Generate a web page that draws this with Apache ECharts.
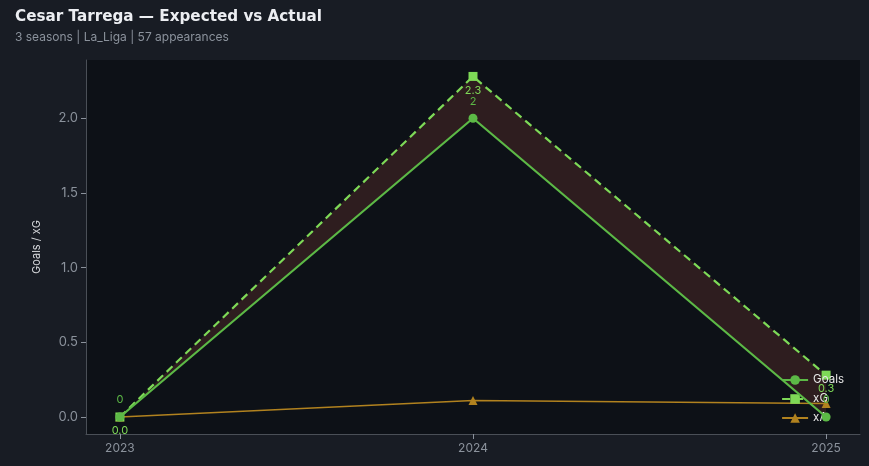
<!DOCTYPE html>
<html><head><meta charset="utf-8">
<script src="https://cdn.jsdelivr.net/npm/echarts@6/dist/echarts.min.js"></script>
<style>html,body{margin:0;padding:0;background:#181c24;}#c{width:869px;height:466px;}</style>
</head><body><div id="c"></div>
<script>
const seasons = [2023, 2024, 2025];
const goals = [0, 2, 0];
const xg = [0, 2.28, 0.28];
const xa = [0, 0.11, 0.09];
const yTicks = [0, 0.5, 1.0, 1.5, 2.0];

const chart = echarts.init(document.getElementById('c'));
const pts = arr => seasons.map((s, i) => [s, arr[i]]);

chart.setOption({
  backgroundColor: '#181c24',
  animation: false,
  title: {
    text: 'Cesar Tarrega — Expected vs Actual',
    subtext: '3 seasons | La_Liga | 57 appearances',
    left: 10, top: 5, itemGap: 6,
    textStyle: {color: '#eceef2', fontSize: 15.2, fontWeight: 'bold', fontFamily: 'DejaVu Sans'},
    subtextStyle: {color: '#8b929c', fontSize: 12, fontFamily: 'Inter'}
  },
  grid: {left: 86, right: 9, top: 60, bottom: 32, show: true, backgroundColor: '#0d1117', borderWidth: 0},
  xAxis: {
    type: 'value', min: 2022.904, max: 2025.096,
    splitLine: {show: false},
    axisLine: {show: true, onZero: false, lineStyle: {color: '#4a4f57'}},
    axisTick: {show: true, customValues: seasons, length: 5, lineStyle: {color: '#8b929c'}},
    axisLabel: {customValues: seasons, color: '#8b929c', fontSize: 12, fontFamily: 'Inter', margin: 8, formatter: v => String(v)}
  },
  yAxis: {
    type: 'value', min: -0.114, max: 2.39,
    name: 'Goals / xG', nameLocation: 'middle', nameGap: 44, nameRotate: 90,
    nameTextStyle: {color: '#d6d8dc', fontSize: 11, fontFamily: 'Inter'},
    splitLine: {show: false},
    axisLine: {show: true, onZero: false, lineStyle: {color: '#4a4f57'}},
    axisTick: {show: true, customValues: yTicks, length: 5, lineStyle: {color: '#8b929c'}},
    axisLabel: {customValues: yTicks, color: '#8b929c', fontSize: 13, fontFamily: 'Inter', margin: 8, formatter: v => v.toFixed(1)}
  },
  legend: {
    orient: 'vertical', right: 20, top: 369, itemGap: 7, itemWidth: 26, itemHeight: 12,
    data: ['Goals', 'xG', 'xA'],
    textStyle: {color: '#e8e8e8', fontSize: 11.5, fontFamily: 'Inter'}
  },
  series: [
    {name: 'bandTop', type: 'line', data: pts(xg), symbol: 'none', lineStyle: {opacity: 0}, areaStyle: {color: '#2e1d1f', opacity: 1, origin: 'start'}, silent: true, z: 1},
    {name: 'bandMask', type: 'line', data: pts(goals), symbol: 'none', lineStyle: {opacity: 0}, areaStyle: {color: '#0d1117', opacity: 1, origin: 'start'}, silent: true, z: 1},
    {name: 'xA', type: 'line', data: pts(xa), symbol: 'triangle', symbolSize: 9,
      itemStyle: {color: '#b1821f'}, lineStyle: {color: '#b1821f', width: 1.6}, z: 2},
    {name: 'xG', type: 'line', data: pts(xg), symbol: 'rect', symbolSize: 9,
      itemStyle: {color: '#7ed957'}, lineStyle: {color: '#7ed957', width: 2.2, type: [8, 5]}, z: 3,
      label: {show: true, position: 'bottom', distance: 4, color: '#7ed957', fontSize: 11, fontFamily: 'Inter', formatter: p => p.value[1].toFixed(1)}},
    {name: 'Goals', type: 'line', data: pts(goals), symbol: 'circle', symbolSize: 9,
      itemStyle: {color: '#5cb946'}, lineStyle: {color: '#5cb946', width: 2.2}, z: 4,
      label: {show: true, position: 'top', distance: 7, color: '#5cb946', fontSize: 11, fontFamily: 'Inter', formatter: p => String(Math.round(p.value[1]))}}
  ]
});
</script></body></html>
